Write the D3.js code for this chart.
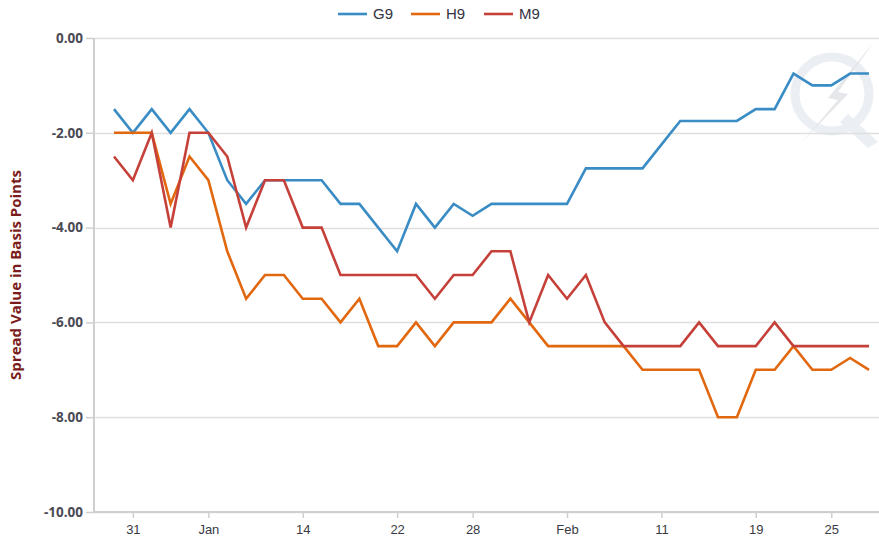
<!DOCTYPE html>
<html>
<head>
<meta charset="utf-8">
<script src="https://cdn.jsdelivr.net/npm/d3@7"></script>
<style>
  body { margin: 0; background: #fff; }
  svg { display: block; }
</style>
</head>
<body>
<div id="chart"></div>
<script>
// trading days, Dec 28 2018 .. Feb 27 2019
var dates = [
  "2018-12-28","2018-12-31","2019-01-02","2019-01-03","2019-01-04",
  "2019-01-07","2019-01-08","2019-01-09","2019-01-10","2019-01-11",
  "2019-01-14","2019-01-15","2019-01-16","2019-01-17","2019-01-18",
  "2019-01-22","2019-01-23","2019-01-24","2019-01-25","2019-01-28",
  "2019-01-29","2019-01-30","2019-01-31","2019-02-01","2019-02-04",
  "2019-02-05","2019-02-06","2019-02-07","2019-02-08","2019-02-11",
  "2019-02-12","2019-02-13","2019-02-14","2019-02-15","2019-02-19",
  "2019-02-20","2019-02-21","2019-02-22","2019-02-25","2019-02-26",
  "2019-02-27"
];

var g9 = [-1.5,-2,-1.5,-2,-1.5,-2,-3,-3.5,-3,-3,
          -3,-3,-3.5,-3.5,-4,-4.5,-3.5,-4,-3.5,-3.75,
          -3.5,-3.5,-3.5,-3.5,-3.5,-2.75,-2.75,-2.75,-2.75,-2.25,
          -1.75,-1.75,-1.75,-1.75,-1.5,-1.5,-0.75,-1,-1,-0.75,-0.75];
var h9 = [-2,-2,-2,-3.5,-2.5,-3,-4.5,-5.5,-5,-5,
          -5.5,-5.5,-6,-5.5,-6.5,-6.5,-6,-6.5,-6,-6,
          -6,-5.5,-6,-6.5,-6.5,-6.5,-6.5,-6.5,-7,-7,
          -7,-7,-8,-8,-7,-7,-6.5,-7,-7,-6.75,-7];
var m9 = [-2.5,-3,-2,-4,-2,-2,-2.5,-4,-3,-3,
          -4,-4,-5,-5,-5,-5,-5,-5.5,-5,-5,
          -4.5,-4.5,-6,-5,-5.5,-5,-6,-6.5,-6.5,-6.5,
          -6.5,-6,-6.5,-6.5,-6.5,-6,-6.5,-6.5,-6.5,-6.5,-6.5];

var tickDates = ["2018-12-31","2019-01-07","2019-01-14","2019-01-22","2019-01-28",
                 "2019-02-04","2019-02-11","2019-02-19","2019-02-25"];
var tickLabels = ["31","Jan","14","22","28","Feb","11","19","25"];
var yTicks = [0,-2,-4,-6,-8,-10];

var seriesNames = ["G9","H9","M9"];
var seriesValues = [g9, h9, m9];
var seriesColors = ["#3a8cc4","#e2680f","#c6403a"];

var width = 879, height = 540;
var plot = {left: 94, right: 879, top: 38, bottom: 512};

var svg = d3.select("#chart").append("svg")
    .attr("width", width)
    .attr("height", height);

var x = d3.scalePoint()
    .domain(dates)
    .range([114, 869]);

var y = d3.scaleLinear()
    .domain([-10, 0])
    .range([plot.bottom, plot.top]);

var fmt = d3.formatLocale({decimal: ".", thousands: ",", grouping: [3], currency: ["$", ""], minus: "-"}).format(".2f");

// watermark (faint logo, upper right)
var wm = svg.append("g").attr("opacity", 0.4);
wm.append("circle")
    .attr("cx", 832).attr("cy", 94).attr("r", 37)
    .attr("fill", "none")
    .attr("stroke", "#cfd9e3")
    .attr("stroke-width", 9);
wm.append("path")
    .attr("d", "M874,42 L828,98 L838,100 L802,142 L848,94 L838,92 Z")
    .attr("fill", "#bfc5cb");
wm.append("path")
    .attr("d", "M848,114 L878,142 L868,148 L840,122 Z")
    .attr("fill", "#cfd9e3");

// grid lines
svg.append("g")
  .selectAll("line")
  .data(yTicks)
  .enter()
  .append("line")
    .attr("x1", plot.left)
    .attr("x2", plot.right)
    .attr("y1", function(d) { return Math.round(y(d)) + 0.5; })
    .attr("y2", function(d) { return Math.round(y(d)) + 0.5; })
    .attr("stroke", "#dfdfdf")
    .attr("stroke-width", 1.5);

// y axis
var yAxis = svg.append("g")
    .attr("transform", "translate(" + plot.left + ",0)")
    .call(d3.axisLeft(y).tickValues(yTicks).tickFormat(fmt).tickSize(8).tickPadding(3));
yAxis.select(".domain").remove();
yAxis.selectAll(".tick line").attr("stroke", "#cfcfcf").attr("stroke-width", 1.5);
yAxis.selectAll(".tick text")
    .attr("fill", "#4a4a55")
    .style("font", "bold 13.5px 'Open Sans', sans-serif");
svg.append("line")
    .attr("x1", plot.left).attr("x2", plot.left)
    .attr("y1", plot.top).attr("y2", plot.bottom)
    .attr("stroke", "#cfcfcf")
    .attr("stroke-width", 2);

// x axis
var xAxis = svg.append("g")
    .attr("transform", "translate(0," + plot.bottom + ")")
    .call(d3.axisBottom(x)
      .tickValues(tickDates)
      .tickFormat(function(d, i) { return tickLabels[i]; })
      .tickSize(6)
      .tickPadding(7));
xAxis.select(".domain").remove();
xAxis.selectAll(".tick line").attr("stroke", "#cfcfcf").attr("stroke-width", 1.5);
xAxis.selectAll(".tick text")
    .attr("fill", "#3a3a44")
    .style("font", "13px 'Liberation Sans Narrow', 'Liberation Sans', sans-serif");
svg.append("line")
    .attr("x1", plot.left).attr("x2", plot.right)
    .attr("y1", plot.bottom).attr("y2", plot.bottom)
    .attr("stroke", "#cfcfcf")
    .attr("stroke-width", 2);

// y axis title
svg.append("text")
    .attr("transform", "translate(21," + ((plot.top + plot.bottom) / 2) + ") rotate(-90)")
    .attr("text-anchor", "middle")
    .attr("fill", "#7a1c1c")
    .style("font", "bold 15px 'Open Sans', sans-serif")
    .text("Spread Value in Basis Points");

// series lines
var line = d3.line()
    .x(function(d, i) { return x(dates[i]); })
    .y(function(d) { return y(d); });

svg.append("g")
  .selectAll("path")
  .data(seriesValues)
  .enter()
  .append("path")
    .attr("d", line)
    .attr("fill", "none")
    .attr("stroke", function(d, i) { return seriesColors[i]; })
    .attr("stroke-width", 2.6);

// legend
var legend = svg.append("g")
    .attr("transform", "translate(338,14)");
var item = legend.selectAll("g")
    .data(seriesNames)
    .enter()
    .append("g")
    .attr("transform", function(d, i) { return "translate(" + (i * 73) + ",0)"; });
item.append("line")
    .attr("x1", 0).attr("x2", 29)
    .attr("stroke", function(d, i) { return seriesColors[i]; })
    .attr("stroke-width", 2.6);
item.append("text")
    .attr("x", 35)
    .attr("y", 5)
    .attr("fill", "#333340")
    .style("font", "15px 'Liberation Sans', Arial, sans-serif")
    .text(function(d) { return d; });
</script>
</body>
</html>
